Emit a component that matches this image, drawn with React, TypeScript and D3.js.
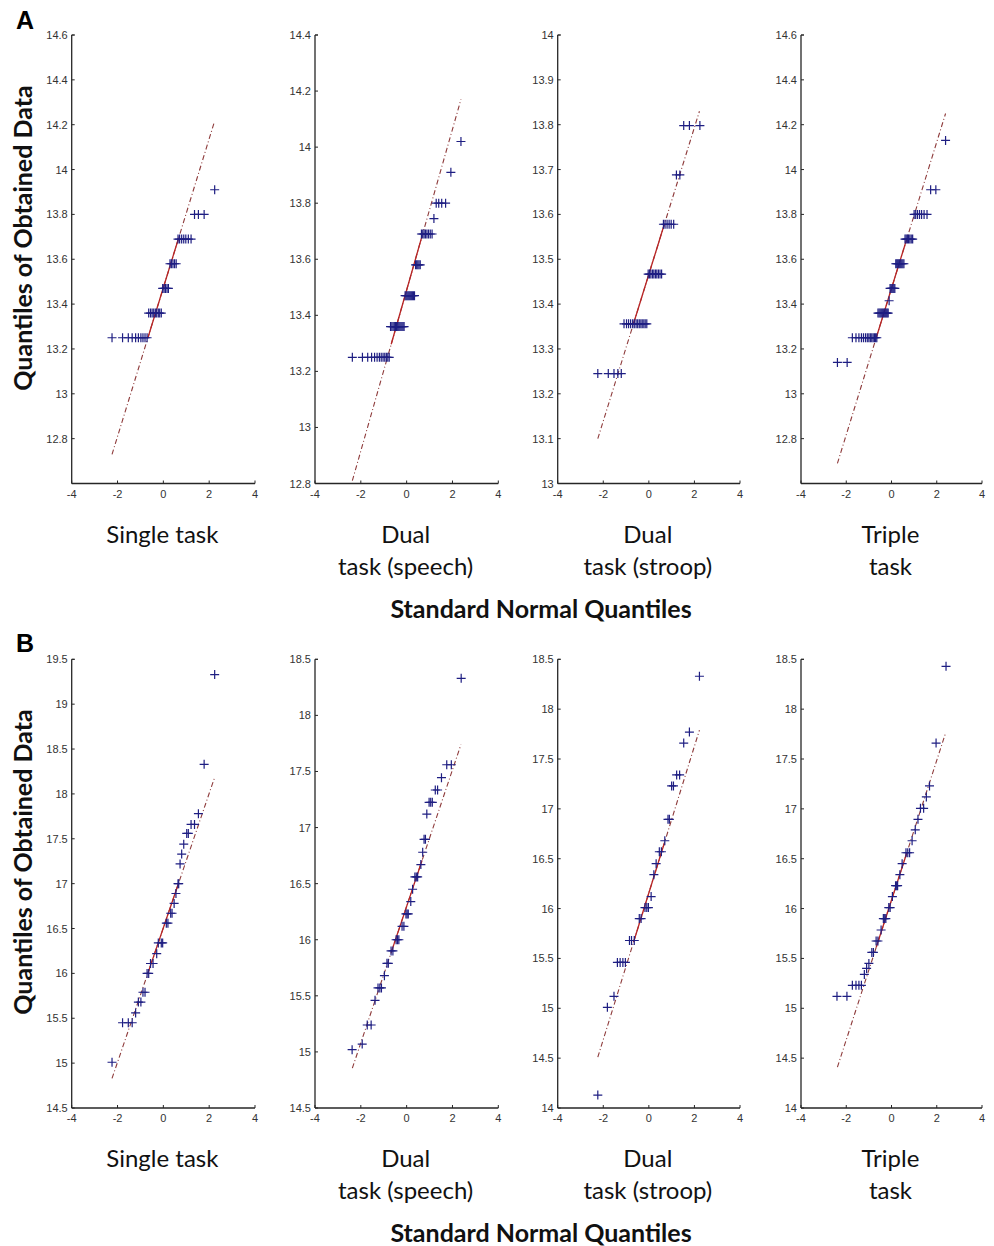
import React from "react";
import * as d3 from "d3";

// Theoretical standard-normal quantile positions
const xQ40 = [-2.24, -1.78, -1.53, -1.36, -1.21, -1.09, -0.98, -0.89, -0.8, -0.71, -0.64, -0.56, -0.49, -0.42, -0.35, -0.29, -0.22, -0.16, -0.09, -0.03,
  0.03, 0.09, 0.16, 0.22, 0.29, 0.35, 0.42, 0.49, 0.56, 0.64, 0.71, 0.8, 0.89, 0.98, 1.09, 1.21, 1.36, 1.53, 1.78, 2.24];
const xQ56 = [-2.37, -1.93, -1.7, -1.53, -1.4, -1.29, -1.19, -1.11, -1.03, -0.955, -0.886, -0.822, -0.761, -0.703, -0.646, -0.592, -0.539, -0.488, -0.439, -0.39, -0.343, -0.296, -0.249, -0.203, -0.157, -0.112, -0.067, -0.022,
  0.022, 0.067, 0.112, 0.157, 0.203, 0.249, 0.296, 0.343, 0.39, 0.439, 0.488, 0.539, 0.592, 0.646, 0.703, 0.761, 0.822, 0.886, 0.955, 1.03, 1.11, 1.19, 1.29, 1.4, 1.53, 1.7, 1.93, 2.37];
const xQ60 = [-2.39, -1.96, -1.73, -1.57, -1.44, -1.33, -1.24, -1.15, -1.07, -1.0, -0.935, -0.872, -0.812, -0.755, -0.701, -0.649, -0.598, -0.549, -0.501, -0.454, -0.408, -0.363, -0.319, -0.275, -0.232, -0.189, -0.147, -0.105, -0.063, -0.021,
  0.021, 0.063, 0.105, 0.147, 0.189, 0.232, 0.275, 0.319, 0.363, 0.408, 0.454, 0.501, 0.549, 0.598, 0.649, 0.701, 0.755, 0.812, 0.872, 0.935, 1.0, 1.07, 1.15, 1.24, 1.33, 1.44, 1.57, 1.73, 1.96, 2.39];

// Panel A: sorted observed values
const singleA = [13.25, 13.25, 13.25, 13.25, 13.25, 13.25, 13.25, 13.25, 13.25, 13.25,
  13.36, 13.36, 13.36, 13.36, 13.36, 13.36, 13.36, 13.36, 13.36,
  13.47, 13.47, 13.47, 13.47, 13.47,
  13.58, 13.58, 13.58, 13.58, 13.58,
  13.69, 13.69, 13.69, 13.69, 13.69, 13.69, 13.69,
  13.8, 13.8, 13.8, 13.91];
const speechA = [13.25, 13.25, 13.25, 13.25, 13.25, 13.25, 13.25, 13.25, 13.25, 13.25, 13.25, 13.25, 13.25,
  13.36, 13.36, 13.36, 13.36, 13.36, 13.36, 13.36, 13.36, 13.36, 13.36, 13.36, 13.36, 13.36,
  13.47, 13.47, 13.47, 13.47, 13.47, 13.47, 13.47, 13.47, 13.47, 13.47,
  13.58, 13.58, 13.58, 13.58, 13.58,
  13.69, 13.69, 13.69, 13.69, 13.69, 13.69, 13.69, 13.69,
  13.745, 13.8, 13.8, 13.8, 13.8, 13.91, 14.02];
const stroopA = [13.245, 13.245, 13.245, 13.245, 13.245,
  13.356, 13.356, 13.356, 13.356, 13.356, 13.356, 13.356, 13.356, 13.356, 13.356, 13.356, 13.356, 13.356, 13.356,
  13.467, 13.467, 13.467, 13.467, 13.467, 13.467, 13.467, 13.467, 13.467, 13.467,
  13.578, 13.578, 13.578, 13.578, 13.578, 13.578,
  13.688, 13.688, 13.798, 13.798, 13.798];
const tripleA = [13.14, 13.14,
  13.25, 13.25, 13.25, 13.25, 13.25, 13.25, 13.25, 13.25, 13.25, 13.25, 13.25, 13.25, 13.25, 13.25,
  13.36, 13.36, 13.36, 13.36, 13.36, 13.36, 13.36, 13.36, 13.36, 13.36, 13.36,
  13.415,
  13.47, 13.47, 13.47, 13.47, 13.47, 13.47,
  13.58, 13.58, 13.58, 13.58, 13.58, 13.58, 13.58, 13.58, 13.58,
  13.69, 13.69, 13.69, 13.69, 13.69, 13.69, 13.69,
  13.8, 13.8, 13.8, 13.8, 13.8, 13.8, 13.8,
  13.91, 13.91, 14.13];

// Panel B: (quantile, value) pairs
const singleBx = [-2.24, -1.78, -1.53, -1.36, -1.21, -1.09, -0.98, -0.89, -0.8, -0.71, -0.64, -0.56, -0.45, -0.29, -0.22, -0.09, -0.03, 0.13, 0.2, 0.32, 0.38, 0.47, 0.55, 0.64, 0.67, 0.73, 0.8, 0.89, 1.02, 1.09, 1.21, 1.36, 1.53, 1.78, 2.24];
const singleBy = [15.01, 15.45, 15.45, 15.45, 15.56, 15.68, 15.68, 15.79, 15.79, 16.0, 16.0, 16.11, 16.11, 16.22, 16.34, 16.34, 16.34, 16.56, 16.56, 16.67, 16.67, 16.78, 16.89, 17.0, 17.0, 17.22, 17.33, 17.44, 17.56, 17.56, 17.66, 17.66, 17.78, 18.33, 19.33];
const speechBx = [-2.38, -1.94, -1.72, -1.55, -1.38, -1.25, -1.17, -1.1, -0.97, -0.86, -0.8, -0.68, -0.6, -0.46, -0.4, -0.34, -0.2, -0.12, -0.03, 0.02, 0.07, 0.18, 0.26, 0.36, 0.42, 0.48, 0.62, 0.7, 0.76, 0.82, 0.88, 0.98, 1.05, 1.12, 1.25, 1.35, 1.52, 1.75, 1.95, 2.38];
const speechBy = [15.02, 15.07, 15.24, 15.24, 15.46, 15.57, 15.57, 15.57, 15.68, 15.79, 15.79, 15.9, 15.9, 16.0, 16.0, 16.0, 16.12, 16.12, 16.23, 16.23, 16.23, 16.34, 16.45, 16.56, 16.56, 16.56, 16.67, 16.78, 16.895, 16.895, 17.12, 17.225, 17.225, 17.225, 17.335, 17.335, 17.445, 17.56, 17.56, 18.33];
const stroopBx = [-2.24, -1.82, -1.53, -1.38, -1.26, -1.14, -1.03, -0.85, -0.76, -0.64, -0.42, -0.34, -0.17, -0.09, -0.02, 0.1, 0.22, 0.32, 0.46, 0.55, 0.7, 0.84, 0.9, 1.0, 1.08, 1.22, 1.35, 1.53, 1.78, 2.22];
const stroopBy = [14.13, 15.01, 15.12, 15.46, 15.46, 15.46, 15.46, 15.68, 15.68, 15.68, 15.9, 15.9, 16.01, 16.01, 16.01, 16.12, 16.34, 16.45, 16.57, 16.57, 16.68, 16.895, 16.895, 17.23, 17.23, 17.34, 17.34, 17.66, 17.77, 18.33];
const tripleBx = [-2.41, -1.97, -1.73, -1.57, -1.44, -1.33, -1.2, -1.1, -1.0, -0.87, -0.8, -0.68, -0.6, -0.46, -0.36, -0.3, -0.25, -0.12, -0.06, 0.04, 0.18, 0.23, 0.27, 0.37, 0.47, 0.64, 0.72, 0.8, 0.91, 1.05, 1.17, 1.28, 1.42, 1.54, 1.68, 1.97, 2.41];
const tripleBy = [15.12, 15.12, 15.23, 15.23, 15.23, 15.23, 15.34, 15.4, 15.45, 15.56, 15.56, 15.675, 15.675, 15.785, 15.9, 15.9, 15.9, 16.01, 16.01, 16.12, 16.23, 16.23, 16.23, 16.34, 16.45, 16.56, 16.56, 16.56, 16.68, 16.79, 16.895, 17.005, 17.005, 17.12, 17.23, 17.66, 18.43];

// Reference lines [x0, y0, x1, y1]
const refLinesA = [[-2.24, 12.73, 2.22, 14.21], [-2.37, 12.81, 2.37, 14.17], [-2.24, 13.1, 2.22, 13.83], [-2.39, 12.69, 2.39, 14.25]];
const refLinesB = [[-2.24, 14.83, 2.22, 18.17], [-2.37, 14.855, 2.37, 17.74], [-2.24, 14.51, 2.22, 17.79], [-2.39, 14.41, 2.39, 17.76]];

// Axes
const xTicks = [-4, -2, 0, 2, 4];
const yDomainsA = [[12.6, 14.6], [12.8, 14.4], [13, 14], [12.6, 14.6]];
const yTicksA = [
  [12.8, 13, 13.2, 13.4, 13.6, 13.8, 14, 14.2, 14.4, 14.6],
  [12.8, 13, 13.2, 13.4, 13.6, 13.8, 14, 14.2, 14.4],
  [13, 13.1, 13.2, 13.3, 13.4, 13.5, 13.6, 13.7, 13.8, 13.9, 14],
  [12.8, 13, 13.2, 13.4, 13.6, 13.8, 14, 14.2, 14.4, 14.6],
];
const yDomainsB = [[14.5, 19.5], [14.5, 18.5], [14, 18.5], [14, 18.5]];
const yTicksB = [
  [14.5, 15, 15.5, 16, 16.5, 17, 17.5, 18, 18.5, 19, 19.5],
  [14.5, 15, 15.5, 16, 16.5, 17, 17.5, 18, 18.5],
  [14, 14.5, 15, 15.5, 16, 16.5, 17, 17.5, 18, 18.5],
  [14, 14.5, 15, 15.5, 16, 16.5, 17, 17.5, 18, 18.5],
];
const titleLine1 = ["Single task", "Dual", "Dual", "Triple"];
const titleLine2 = ["", "task (speech)", "task (stroop)", "task"];

const panelLeft = [71.7, 315, 557.7, 801];
const panelWidth = [183.3, 183.3, 182.3, 181];
const rows = [
  { top: 35, bottom: 483.5, label: "A", labelY: 29, yLabelC: 238, t1: 543, t2: 575, xl: 618 },
  { top: 659.3, bottom: 1108, label: "B", labelY: 652, yLabelC: 862, t1: 1167, t2: 1199, xl: 1242 },
];

const rowData = [
  { xs: [xQ40, xQ56, xQ40, xQ60], ys: [singleA, speechA, stroopA, tripleA], lines: refLinesA, domains: yDomainsA, ticks: yTicksA },
  { xs: [singleBx, speechBx, stroopBx, tripleBx], ys: [singleBy, speechBy, stroopBy, tripleBy], lines: refLinesB, domains: yDomainsB, ticks: yTicksB },
];

const AX = "#262626";
const MARK = "#1e1e82";
const tickFont = "'Liberation Sans', Arial, sans-serif";
const textFont = "Lato, 'Open Sans', sans-serif";

function Panel({ left, width, top, bottom, xs, ys, line, domain, ticks }: any) {
  const x = d3.scaleLinear().domain([-4, 4]).range([left, left + width]);
  const y = d3.scaleLinear().domain(domain).range([bottom, top]);
  const [x0, y0, x1, y1] = line;
  const lf = (v: number) => y0 + ((v - x0) * (y1 - y0)) / (x1 - x0);
  const q = 0.674;
  return (
    <g>
      <line x1={left} x2={left} y1={top} y2={bottom} stroke={AX} strokeWidth={1.3} />
      <line x1={left} x2={left + width} y1={bottom} y2={bottom} stroke={AX} strokeWidth={1.3} />
      {xTicks.map((t) => (
        <g key={"x" + t}>
          <line x1={x(t)} x2={x(t)} y1={bottom} y2={bottom - 3} stroke={AX} strokeWidth={1} />
          <text x={x(t)} y={bottom + 14} textAnchor="middle" fontSize={11} fontFamily={tickFont} fill="#333">
            {String(t)}
          </text>
        </g>
      ))}
      {[domain[1], ...ticks].map((t: number, i: number) => (
        <line key={"yt" + i} x1={left} x2={left + 3} y1={y(t)} y2={y(t)} stroke={AX} strokeWidth={1} />
      ))}
      {ticks.map((t: number) => (
        <text key={"y" + t} x={left - 4} y={y(t) + 4} textAnchor="end" fontSize={11} fontFamily={tickFont} fill="#333">
          {String(t)}
        </text>
      ))}
      <line x1={x(x0)} y1={y(y0)} x2={x(x1)} y2={y(y1)} stroke="#8e3b3b" strokeWidth={1.1} strokeDasharray="5,2.5,1,2.5" />
      <line x1={x(-q)} y1={y(lf(-q))} x2={x(q)} y2={y(lf(q))} stroke="#b82424" strokeWidth={1.3} />
      {xs.map((xv: number, i: number) => (
        <path
          key={"p" + i}
          d={`M${x(xv) - 4.5},${y(ys[i])}H${x(xv) + 4.5}M${x(xv)},${y(ys[i]) - 4.5}V${y(ys[i]) + 4.5}`}
          stroke={MARK}
          strokeWidth={1.2}
          fill="none"
        />
      ))}
    </g>
  );
}

export default function App() {
  return (
    <svg width={994} height={1246} style={{ position: "absolute", left: 0, top: 0, background: "#fff" }}>
      <rect width={994} height={1246} fill="#fff" />
      {rows.map((r, ri) => (
        <g key={ri}>
          <text x={16} y={r.labelY} fontSize={25} fontWeight="bold" fontFamily={tickFont} fill="#000">
            {r.label}
          </text>
          <text
            transform={`translate(22,${r.yLabelC}) rotate(-90)`}
            textAnchor="middle"
            dominantBaseline="central"
            fontSize={25}
            fontWeight="bold"
            fontFamily={textFont}
            fill="#111"
          >
            Quantiles of Obtained Data
          </text>
          {panelLeft.map((pl, pi) => (
            <g key={pi}>
              <Panel
                left={pl}
                width={panelWidth[pi]}
                top={r.top}
                bottom={r.bottom}
                xs={rowData[ri].xs[pi]}
                ys={rowData[ri].ys[pi]}
                line={rowData[ri].lines[pi]}
                domain={rowData[ri].domains[pi]}
                ticks={rowData[ri].ticks[pi]}
              />
              <text x={pl + panelWidth[pi] / 2 - 1} y={r.t1} textAnchor="middle" fontSize={24} fontFamily={textFont} fill="#111">
                {titleLine1[pi]}
              </text>
              <text x={pl + panelWidth[pi] / 2 - 1} y={r.t2} textAnchor="middle" fontSize={24} fontFamily={textFont} fill="#111">
                {titleLine2[pi]}
              </text>
            </g>
          ))}
          <text x={541} y={r.xl} textAnchor="middle" fontSize={25} fontWeight="bold" fontFamily={textFont} fill="#111">
            Standard Normal Quantiles
          </text>
        </g>
      ))}
    </svg>
  );
}
